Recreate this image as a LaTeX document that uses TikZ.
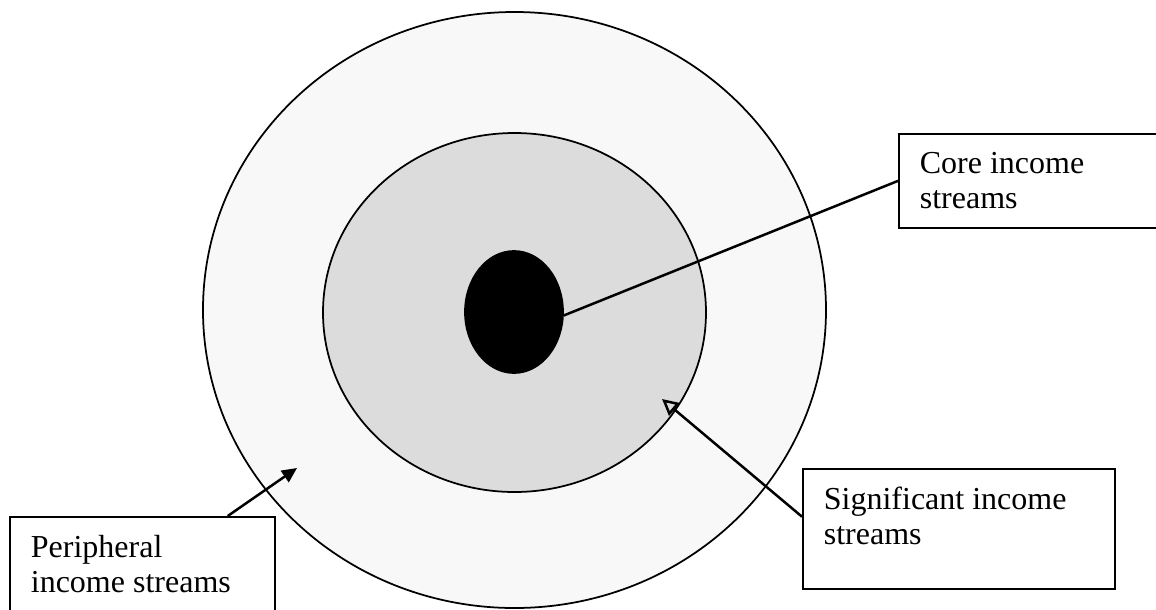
\documentclass[tikz,border=0pt]{standalone}
\usepackage{fontspec}
\setmainfont{Liberation Serif}
\usepackage{xcolor}
\usepackage{tikz}
\usetikzlibrary{arrows.meta, shapes.geometric, calc}
\definecolor{ringouter}{RGB}{248, 248, 248}
\definecolor{ringmiddle}{RGB}{220, 220, 220}

\begin{document}
\begin{tikzpicture}[
  x=0.4pt, y=-0.4pt,
  ring/.style={ellipse, draw=black, line width=0.7pt, inner sep=0pt},
  labelbox/.style={rectangle, draw=black, line width=0.7pt, anchor=north west,
                   inner xsep=8.4pt, inner ysep=7.3pt,
                   font=\fontsize{12.8}{14}\selectfont},
  lead/.style={line width=1pt, color=black},
  arrfill/.style={lead, -{Triangle[length=6pt, width=5.5pt]}},
  arropen/.style={lead, -{Triangle[open, length=6.5pt, width=6.5pt]}}
]
\useasboundingbox (0,0) rectangle (1156,609);
\clip (0,0) rectangle (1156,609);

% rings
\node[ring, fill=ringouter, minimum width=249.2pt, minimum height=238.4pt] (outer) at (514.5,310) {};
\node[ring, fill=ringmiddle, minimum width=153.2pt, minimum height=143.6pt] (middle) at (514.5,312.5) {};
\node[ring, fill=black, minimum width=39.2pt, minimum height=48.8pt] (core) at (514,312) {};

% label boxes
\node[labelbox, fill=white] (corebox) at (898,133)
  {\parbox[c][23pt][t]{92pt}{\raggedright Core income\\streams}};
\node[labelbox, fill=white] (sigbox) at (802,468)
  {\parbox[c][33.4pt][t]{108pt}{\raggedright Significant income\\streams}};
\node[labelbox, fill=white] (peribox) at (9,516)
  {\parbox[c][31pt][t]{89.2pt}{\raggedright Peripheral\\income streams}};

\coordinate (sigtip) at (662,399);
\coordinate (peritip) at (297,468);

\draw[lead] (core.-4) -- (corebox.west);
\draw[arropen] ($(sigbox.north west)!0.4!(sigbox.south west)$) -- (sigtip);
\draw[arrfill] ($(peribox.north west)!0.82!(peribox.north east)$) -- (peritip);
\end{tikzpicture}
\end{document}
